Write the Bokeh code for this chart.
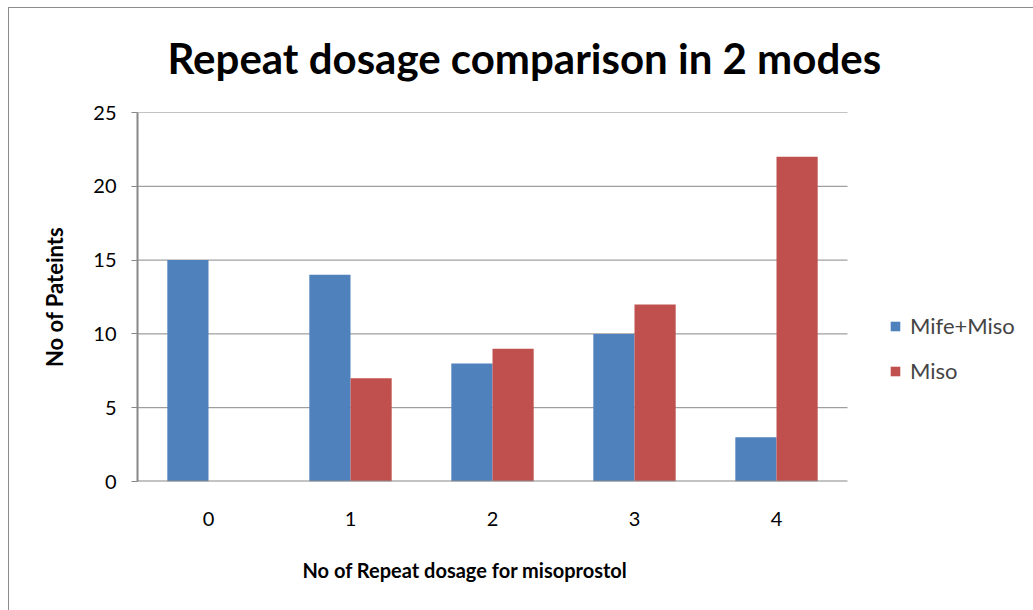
from bokeh.plotting import figure
from bokeh.models import Legend, LegendItem, ColumnDataSource, Title, InlineStyleSheet, Range1d, FixedTicker
from bokeh.transform import dodge
from bokeh.embed import file_html
from bokeh.resources import INLINE

categories = ["0", "1", "2", "3", "4"]
mife_miso = [15, 14, 8, 10, 3]
miso = [0, 7, 9, 12, 22]
series_names = ["Mife+Miso", "Miso"]
y_ticks = [0, 5, 10, 15, 20, 25]
title_text = "Repeat dosage comparison in 2 modes"
x_title = "No of Repeat dosage for misoprostol"
y_title = "No of Pateints"

FONT = "Lato"
xpos = list(range(len(categories)))
n = len(categories)
src = ColumnDataSource(dict(x=xpos, a=mife_miso, b=miso))

# frame extends to the right edge so the legend (drawn inside the frame) is not clipped;
# the category area covers the first 710px, as in the reference
p = figure(width=1033, height=610, x_range=Range1d(-0.5, -0.5 + n * 896 / 710),
           y_range=(0, 25), output_backend="svg", toolbar_location=None,
           min_border_left=137, min_border_right=0, min_border_top=112, min_border_bottom=129)
p.stylesheets = [InlineStyleSheet(css=":host::after { content: ''; position: absolute; left: 8px; top: 7px; right: 0; bottom: 0; border-left: 1px solid #8c8c8c; border-top: 1px solid #8c8c8c; pointer-events: none; }")]

# gridlines and the category axis line only over the category area
grid_y = [v for v in y_ticks if v > 0]
p.segment(x0=[-0.5] * len(grid_y), x1=[n - 0.5] * len(grid_y), y0=grid_y, y1=grid_y,
          line_color="#888888", line_width=1)

r1 = p.vbar(x=dodge("x", -0.145), top="a", width=0.29, source=src,
            fill_color="#4F81BD", line_color=None)
r2 = p.vbar(x=dodge("x", 0.145), top="b", width=0.29, source=src,
            fill_color="#C0504D", line_color=None)

p.segment(x0=[-0.5], x1=[n - 0.5], y0=[0], y1=[0], line_color="#888888", line_width=2)

p.outline_line_color = None
p.xgrid.grid_line_color = None
p.ygrid.grid_line_color = None
p.yaxis.ticker = y_ticks
p.yaxis.axis_line_color = "#888888"
p.yaxis.axis_line_width = 2
p.yaxis.major_tick_line_color = "#888888"
p.yaxis.major_tick_out = 6
p.yaxis.major_tick_in = 0
p.yaxis.minor_tick_line_color = None
p.yaxis.major_label_text_font = FONT
p.yaxis.major_label_text_font_size = "20px"
p.yaxis.major_label_text_color = "#000000"
p.yaxis.major_label_standoff = 15
p.yaxis.axis_label = y_title
p.yaxis.axis_label_text_font = FONT
p.yaxis.axis_label_text_font_style = "bold"
p.yaxis.axis_label_text_font_size = "22px"
p.yaxis.axis_label_text_color = "#000000"
p.yaxis.axis_label_standoff = 22

p.xaxis.ticker = FixedTicker(ticks=xpos)
p.xaxis.major_label_overrides = {i: c for i, c in zip(xpos, categories)}
p.xaxis.axis_line_color = None
p.xaxis.major_tick_line_color = None
p.xaxis.minor_tick_line_color = None
p.xaxis.major_label_text_font = FONT
p.xaxis.major_label_text_font_size = "20px"
p.xaxis.major_label_text_color = "#000000"
p.xaxis.major_label_standoff = 24

t = Title(text=title_text, text_font=FONT, text_font_size="42px", text_font_style="bold",
          align="left", offset=30, standoff=55, vertical_align="top", text_color="#000000")
p.add_layout(t, "above")

xt = Title(text=x_title, text_font=FONT, text_font_size="20px", text_font_style="bold",
           align="left", offset=165, standoff=54, text_color="#000000")
p.add_layout(xt, "below")

legend = Legend(items=[LegendItem(label=series_names[0], renderers=[r1]),
                       LegendItem(label=series_names[1], renderers=[r2])],
                location=(752, 97), border_line_color=None, background_fill_alpha=0,
                label_text_font=FONT, label_text_font_size="22px", glyph_width=12,
                glyph_height=12, spacing=18, label_standoff=9, padding=0, margin=0)
p.add_layout(legend, "center")

open("out.html", "w").write(file_html(p, INLINE))
